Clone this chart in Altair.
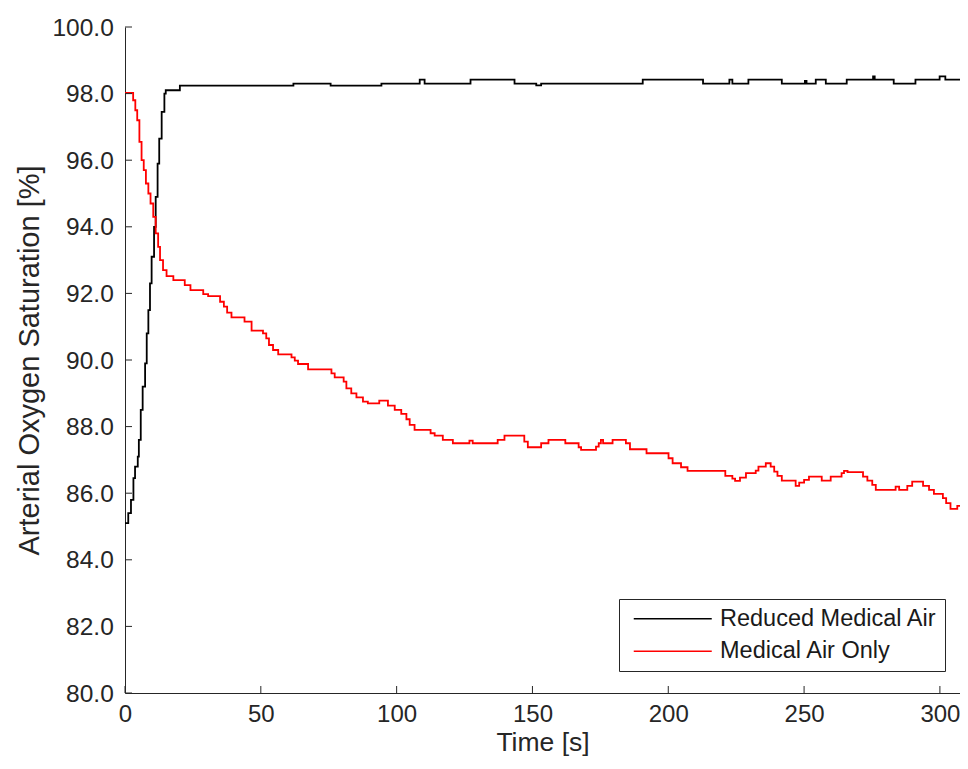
import altair as alt
import pandas as pd

# ---- data ----
black_t = [0, 1.2, 2.2, 3.1, 3.7, 4.7, 5.1, 5.8, 6.5, 7.4, 8.0, 8.6, 9.2, 9.8, 10.7, 11.3,
           12.0, 12.6, 13.5, 14.5, 15.0, 20.2, 62.0, 75.7, 94.4, 108.5, 110.3, 127.2, 143.4,
           151.4, 153.2, 190.6, 212.8, 222.5, 223.6, 229.5, 241.8, 250.3, 250.9, 254.3,
           258.0, 265.7, 275.4, 276.0, 283.0, 291.0, 299.9, 302.0, 310.0]
black_v = [85.1, 85.4, 85.8, 86.45, 86.8, 87.1, 87.6, 88.5, 89.2, 89.9, 90.8, 91.5, 92.3, 93.1,
           94.0, 94.9, 95.9, 96.65, 97.45, 98.0, 98.1, 98.24, 98.3, 98.24, 98.3, 98.42, 98.3,
           98.42, 98.3, 98.25, 98.3, 98.42, 98.3, 98.42, 98.3, 98.42, 98.3, 98.38, 98.3,
           98.42, 98.3, 98.42, 98.52, 98.42, 98.3, 98.42, 98.52, 98.42, 98.42]

red_t = [0, 3.0, 3.8, 4.5, 5.3, 6.1, 6.9, 7.7, 8.6, 9.4, 10.4, 11.3, 12.2, 12.9, 14.0, 15.3,
         17.8, 22.0, 24.1, 28.8, 30.6, 35.0, 36.4, 37.6, 39.2, 44.0, 46.6, 50.8, 52.0, 53.0,
         54.5, 56.4, 61.3, 62.5, 63.7, 67.4, 76.0, 77.2, 80.5, 81.5, 83.3, 85.2, 87.6, 89.4,
         93.6, 96.8, 99.3, 101.7, 103.6, 104.8, 106.6, 112.5, 114.0, 117.0, 120.7, 126.8,
         128.0, 137.2, 139.7, 147.0, 148.3, 153.2, 155.9, 162.1, 167.0, 167.9, 173.4, 174.4,
         175.2, 176.0, 179.5, 184.4, 185.9, 192.0, 200.1, 201.6, 204.7, 207.1, 221.0, 223.6,
         224.6, 226.4, 228.6, 232.2, 233.2, 235.9, 237.7, 239.0, 240.2, 241.8, 246.9, 248.2,
         250.0, 251.8, 256.5, 259.8, 263.8, 264.7, 266.0, 271.7, 273.3, 275.1, 276.4, 283.7,
         285.0, 288.0, 289.8, 293.8, 296.0, 297.8, 301.1, 302.3, 303.9, 306.4, 310.0]
red_v = [98.02, 97.8, 97.5, 97.2, 96.55, 96.0, 95.7, 95.3, 95.0, 94.7, 94.3, 93.8, 93.4, 93.0,
         92.7, 92.52, 92.4, 92.25, 92.1, 91.98, 91.92, 91.75, 91.6, 91.42, 91.28, 91.15, 90.88,
         90.8, 90.65, 90.45, 90.3, 90.17, 90.08, 89.98, 89.88, 89.72, 89.6, 89.48, 89.35,
         89.15, 89.0, 88.88, 88.75, 88.7, 88.78, 88.63, 88.5, 88.38, 88.22, 88.05, 87.9, 87.8,
         87.73, 87.6, 87.5, 87.58, 87.5, 87.6, 87.73, 87.55, 87.38, 87.5, 87.6, 87.5, 87.38,
         87.3, 87.4, 87.5, 87.6, 87.5, 87.6, 87.5, 87.32, 87.2, 87.05, 86.9, 86.78, 86.67,
         86.52, 86.44, 86.37, 86.47, 86.6, 86.68, 86.8, 86.9, 86.8, 86.65, 86.52, 86.38, 86.22,
         86.32, 86.4, 86.5, 86.38, 86.5, 86.6, 86.67, 86.63, 86.5, 86.38, 86.25, 86.1, 86.2,
         86.1, 86.22, 86.35, 86.22, 86.1, 85.98, 85.85, 85.7, 85.53, 85.62, 85.62]

series_names = ["Reduced Medical Air", "Medical Air Only"]
series_colors = ["#000000", "#ff0000"]
x_ticks = [0, 50, 100, 150, 200, 250, 300]
y_ticks = [80, 82, 84, 86, 88, 90, 92, 94, 96, 98, 100]
x_domain = [0, 307.4]
y_domain = [80, 100]

df = pd.concat([
    pd.DataFrame({"t": black_t, "v": black_v, "series": series_names[0]}),
    pd.DataFrame({"t": red_t, "v": red_v, "series": series_names[1]}),
], ignore_index=True)

X_TITLE = "Time [s]"
Y_TITLE = "Arterial Oxygen Saturation [%]"
xscale = alt.Scale(domain=x_domain, nice=False, zero=False)
yscale = alt.Scale(domain=y_domain, nice=False, zero=False)

lines = alt.Chart(df).mark_line(interpolate="step-after", strokeWidth=1.8, clip=True).encode(
    x=alt.X("t:Q", scale=xscale, title=X_TITLE,
            axis=alt.Axis(values=x_ticks, format="d", labelFlush=False)),
    y=alt.Y("v:Q", scale=yscale, title=Y_TITLE,
            axis=alt.Axis(values=y_ticks, format=".1f", labelFlush=False)),
    color=alt.Color("series:N", title=None,
                    scale=alt.Scale(domain=series_names, range=series_colors),
                    legend=alt.Legend(orient="none", legendX=494, legendY=572,
                                      symbolType="M-4.875,0L4.875,0", symbolSize=256,
                                      symbolStrokeWidth=1.5, symbolOffset=34,
                                      labelOffset=35.5, labelFontSize=23.5,
                                      labelFont="Liberation Sans", labelColor="#1a1a1a",
                                      labelLimit=400, padding=8, rowPadding=7.5,
                                      strokeColor="#262626", fillColor="#ffffff")),
)

xticks = alt.Chart(pd.DataFrame({"t": x_ticks})).mark_rule(color="#262626", strokeWidth=1).encode(
    x=alt.X("t:Q", scale=xscale, title=X_TITLE),
    y=alt.value(666), y2=alt.value(659),
)
yticks = alt.Chart(pd.DataFrame({"v": y_ticks})).mark_rule(color="#262626", strokeWidth=1).encode(
    y=alt.Y("v:Q", scale=yscale, title=Y_TITLE),
    x=alt.value(0), x2=alt.value(7),
)

chart = alt.layer(lines, xticks, yticks).properties(
    width=835, height=666,
    padding={"left": 117, "top": 19, "right": 0, "bottom": 64},
    autosize=alt.AutoSizeParams(type="none"),
    background="#ffffff",
).configure_view(strokeWidth=0).configure_axis(
    domainColor="#262626", domainWidth=1, ticks=False, tickSize=0, grid=False,
    labelFont="Liberation Sans", labelFontSize=24.5, labelColor="#262626",
    titleFont="Liberation Sans", titleFontSize=29, titleFontWeight="normal",
    titleColor="#262626",
).configure_axisX(labelPadding=9.8, labelFontSize=24, titleFontSize=26.5,
                  titleBaseline="alphabetic", titleY=57.9).configure_axisY(
    labelPadding=11.7, titlePadding=7, labelOffset=1)

chart.save("out.html", embed_options={"renderer": "svg", "actions": False})
